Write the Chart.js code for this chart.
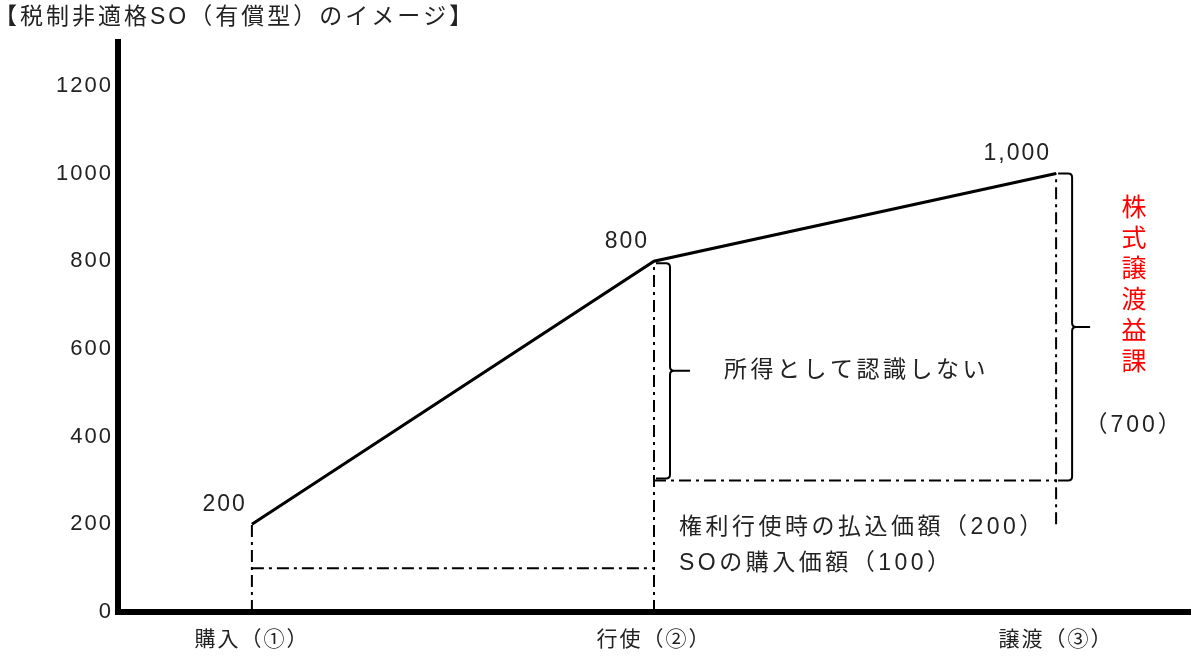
<!DOCTYPE html>
<html>
<head>
<meta charset="utf-8">
<script src="https://cdn.jsdelivr.net/npm/chart.js@4.4.1/dist/chart.umd.min.js"></script>
<style>
  html, body { margin: 0; padding: 0; background: #fff; }
  #wrap { width: 1200px; height: 656px; }
</style>
</head>
<body>
<div id="wrap"><canvas id="chart"></canvas></div>
<script>
const categories = ['購入（①）', '行使（②）', '譲渡（③）'];
const stockValues = [200, 800, 1000];
const pointLabels = ['200', '800', '1,000'];
const yTicks = [0, 200, 400, 600, 800, 1000, 1200];
const soPurchasePrice = 100;
const exercisePayment = 200;
const gainValue = 700;

const FONT = '"Liberation Sans", "Noto Sans CJK JP", sans-serif';
const TEXT = '#222';
const DASH = [12, 5, 3, 5];

const paidIn = soPurchasePrice + exercisePayment;

function guide(points) {
  return {
    data: points,
    borderColor: '#000',
    borderWidth: 2,
    borderDash: DASH,
    pointRadius: 0,
    fill: false
  };
}

const datasets = [
  {
    data: stockValues.map((v, i) => ({ x: i + 1, y: v })),
    borderColor: '#000',
    borderWidth: 3,
    pointRadius: 0,
    fill: false
  },
  guide([{ x: 1, y: 0 }, { x: 1, y: stockValues[0] }]),
  guide([{ x: 1, y: soPurchasePrice }, { x: 2, y: soPurchasePrice }]),
  guide([{ x: 2, y: 0 }, { x: 2, y: stockValues[1] }]),
  guide([{ x: 2, y: paidIn }, { x: 3, y: paidIn }]),
  guide([{ x: 3, y: exercisePayment }, { x: 3, y: stockValues[2] }])
];

function brace(ctx, x, top, bottom, tip) {
  const mid = (top + bottom) / 2;
  ctx.beginPath();
  ctx.moveTo(x - 14, top);
  ctx.lineTo(x - 4, top);
  ctx.quadraticCurveTo(x, top, x, top + 4);
  ctx.lineTo(x, mid - 4);
  ctx.quadraticCurveTo(x, mid, x + 4, mid);
  ctx.lineTo(x + tip, mid);
  ctx.moveTo(x + 4, mid);
  ctx.quadraticCurveTo(x, mid, x, mid + 4);
  ctx.lineTo(x, bottom - 4);
  ctx.quadraticCurveTo(x, bottom, x - 4, bottom);
  ctx.lineTo(x - 14, bottom);
  ctx.stroke();
}

const notes = {
  id: 'notes',
  beforeDraw(chart) {
    chart.ctx.letterSpacing = '2px';
  },
  afterDatasetsDraw(chart) {
    const { ctx, scales: { x, y } } = chart;
    ctx.save();
    ctx.fillStyle = TEXT;
    ctx.textBaseline = 'middle';

    // title
    ctx.textAlign = 'left';
    ctx.letterSpacing = '3px';
    ctx.font = '23px ' + FONT;
    ctx.fillText('【税制非適格SO（有償型）のイメージ】', -6, 18);

    // point labels
    ctx.letterSpacing = '2px';
    ctx.textAlign = 'right';
    stockValues.forEach((v, i) => {
      ctx.fillText(pointLabels[i], x.getPixelForValue(i + 1) - 5, y.getPixelForValue(v) - 20);
    });

    // braces
    ctx.strokeStyle = '#000';
    ctx.lineWidth = 2;
    brace(ctx, x.getPixelForValue(2) + 16, y.getPixelForValue(stockValues[1]) + 2, y.getPixelForValue(paidIn) - 2, 20);
    brace(ctx, x.getPixelForValue(3) + 16, y.getPixelForValue(stockValues[2]), y.getPixelForValue(paidIn), 18);

    ctx.textAlign = 'left';
    ctx.letterSpacing = '3.5px';
    const x2 = x.getPixelForValue(2);
    ctx.fillText('所得として認識しない', x2 + 70, (y.getPixelForValue(stockValues[1]) + y.getPixelForValue(paidIn)) / 2);
    ctx.fillText('権利行使時の払込価額（' + exercisePayment + '）', x2 + 25, y.getPixelForValue(paidIn) + 47);
    ctx.fillText('SOの購入価額（' + soPurchasePrice + '）', x2 + 25, y.getPixelForValue(paidIn) + 83);

    // vertical red label
    const x3 = x.getPixelForValue(3);
    ctx.textAlign = 'center';
    ctx.letterSpacing = '0px';
    ctx.fillStyle = '#ff0000';
    ctx.font = '25px ' + FONT;
    '株式譲渡益課'.split('').forEach((c, i) => {
      ctx.fillText(c, x3 + 78, 209 + i * 30.8);
    });
    ctx.fillStyle = TEXT;
    ctx.font = '23px ' + FONT;
    ctx.letterSpacing = '3px';
    ctx.fillText('（' + gainValue + '）', x3 + 78, 426);
    ctx.restore();
  }
};

new Chart(document.getElementById('chart'), {
  type: 'line',
  data: { datasets },
  options: {
    responsive: true,
    maintainAspectRatio: false,
    animation: false,
    layout: { padding: { left: 0, right: 10, top: 42, bottom: 0 } },
    plugins: {
      legend: { display: false },
      tooltip: { enabled: false },
      title: { display: false }
    },
    scales: {
      x: {
        type: 'linear',
        min: 0.667,
        max: 3.333,
        afterBuildTicks: (axis) => { axis.ticks = categories.map((c, i) => ({ value: i + 1 })); },
        afterFit: (axis) => { axis.height = 44; },
        grid: { display: false },
        border: { display: true, color: '#000', width: 6 },
        ticks: {
          color: TEXT,
          padding: 8,
          maxRotation: 0,
          font: { family: FONT, size: 21 },
          callback: (v) => categories[v - 1]
        }
      },
      y: {
        type: 'linear',
        min: 0,
        max: 1300,
        afterBuildTicks: (axis) => { axis.ticks = yTicks.map(v => ({ value: v })); },
        afterFit: (axis) => { axis.width = 118; },
        grid: { display: false },
        border: { display: true, color: '#000', width: 6 },
        ticks: {
          color: TEXT,
          padding: -3,
          font: { family: FONT, size: 22 },
          callback: (v) => String(v)
        }
      }
    }
  },
  plugins: [notes]
});
</script>
</body>
</html>
